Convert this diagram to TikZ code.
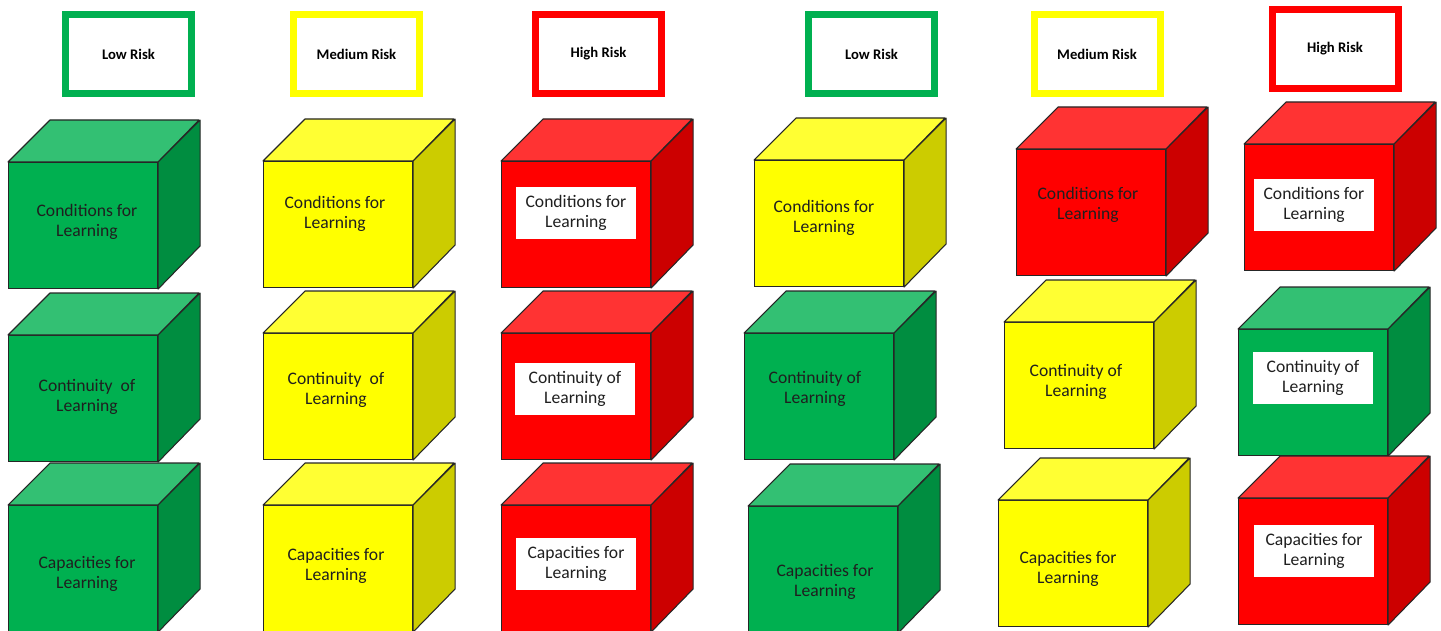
\documentclass[tikz,border=0pt]{standalone}
\usepackage{fontspec}
\setmainfont{Carlito}
\usepackage{tikz}
\definecolor{riskgreen}{HTML}{00B050}
\definecolor{riskgreentop}{HTML}{33C073}
\definecolor{riskgreenside}{HTML}{008D40}
\definecolor{riskyellow}{HTML}{FFFF00}
\definecolor{riskyellowtop}{HTML}{FFFF33}
\definecolor{riskyellowside}{HTML}{CCCC00}
\definecolor{riskred}{HTML}{FF0000}
\definecolor{riskredtop}{HTML}{FF3333}
\definecolor{riskredside}{HTML}{CC0000}
\tikzset{
         riskbox/.style={draw=#1,line width=5.25pt,minimum width=94.5pt,minimum height=59.25pt,
                         inner sep=0pt,font=\fontsize{11}{13}\selectfont\bfseries},
         cubefront/.style={draw=black!85,line width=0.8pt,fill=#1,anchor=north west,inner sep=0pt,
                           minimum width=111.75pt,minimum height=94.5pt},
         celltext/.style={align=center,text=black!88,font=\fontsize{13.2}{15}\selectfont},
         whitetext/.style={celltext,fill=white,inner sep=0pt,minimum width=90pt,minimum height=38.5pt}
        }
% cube: name, front top left, colour
\newcommand{\riskcube}[3]{%
 \node[cubefront=#3](#1)at(#2){};
 \draw[black!85,line width=0.8pt,fill=#3top,line join=round](#1.north west)--++(42,-42)--++(149,0)--(#1.north east)--cycle;
 \draw[black!85,line width=0.8pt,fill=#3side,line join=round](#1.north east)--++(42,-42)--++(0,126)--(#1.south east)--cycle;
}
\begin{document}
\begin{tikzpicture}[x=0.75pt,y=-0.75pt]
\useasboundingbox(0,0)rectangle(1441,631);
% risk headings
\node[riskbox=riskgreen](lowA)at(128.5,54){Low Risk};
\node[riskbox=riskyellow](medA)at(356.5,54){Medium Risk};
\node[riskbox=riskred](highA)at(598.5,54){High Risk};
\node[riskbox=riskgreen](lowB)at(871.5,54){Low Risk};
\node[riskbox=riskyellow](medB)at(1097,54){Medium Risk};
\node[riskbox=riskred](highB)at(1335,49){High Risk};
% column 1
\riskcube{condA}{8,162}{riskgreen}
\riskcube{contA}{8,335}{riskgreen}
\riskcube{capA}{8,505}{riskgreen}
\node[celltext](condAt)at(87,222){Conditions for\\Learning};
\node[celltext](contAt)at(87,397){Continuity\ \ of\\Learning};
\node[celltext](capAt)at(87,574){Capacities for\\Learning};
% column 2
\riskcube{condB}{263,161}{riskyellow}
\riskcube{contB}{263,333}{riskyellow}
\riskcube{capB}{263,505}{riskyellow}
\node[celltext](condBt)at(335,214){Conditions for\\Learning};
\node[celltext](contBt)at(336,390){Continuity\ \ of\\Learning};
\node[celltext](capBt)at(336,566){Capacities for\\Learning};
% column 3
\riskcube{condC}{501,161}{riskred}
\riskcube{contC}{501,333}{riskred}
\riskcube{capC}{501,505}{riskred}
\node[whitetext](condCt)at(576,213){Conditions for\\Learning};
\node[whitetext](contCt)at(575,389){Continuity of\\Learning};
\node[whitetext](capCt)at(576,564){Capacities for\\Learning};
% column 4
\riskcube{condD}{754,160}{riskyellow}
\riskcube{contD}{744,333}{riskgreen}
\riskcube{capD}{748,506}{riskgreen}
\node[celltext](condDt)at(824,218){Conditions for\\Learning};
\node[celltext](contDt)at(815,389){Continuity of\\Learning};
\node[celltext](capDt)at(825,582){Capacities for\\Learning};
% column 5
\riskcube{condE}{1016,149}{riskred}
\riskcube{contE}{1004,322}{riskyellow}
\riskcube{capE}{998,500}{riskyellow}
\node[celltext](condEt)at(1088,205){Conditions for\\Learning};
\node[celltext](contEt)at(1076,382){Continuity of\\Learning};
\node[celltext](capEt)at(1068,569){Capacities for\\Learning};
% column 6
\riskcube{condF}{1244,144}{riskred}
\riskcube{contF}{1238,329}{riskgreen}
\riskcube{capF}{1238,498}{riskred}
\node[whitetext](condFt)at(1314,205){Conditions for\\Learning};
\node[whitetext](contFt)at(1313,378){Continuity of\\Learning};
\node[whitetext](capFt)at(1314,551){Capacities for\\Learning};
\end{tikzpicture}
\end{document}
